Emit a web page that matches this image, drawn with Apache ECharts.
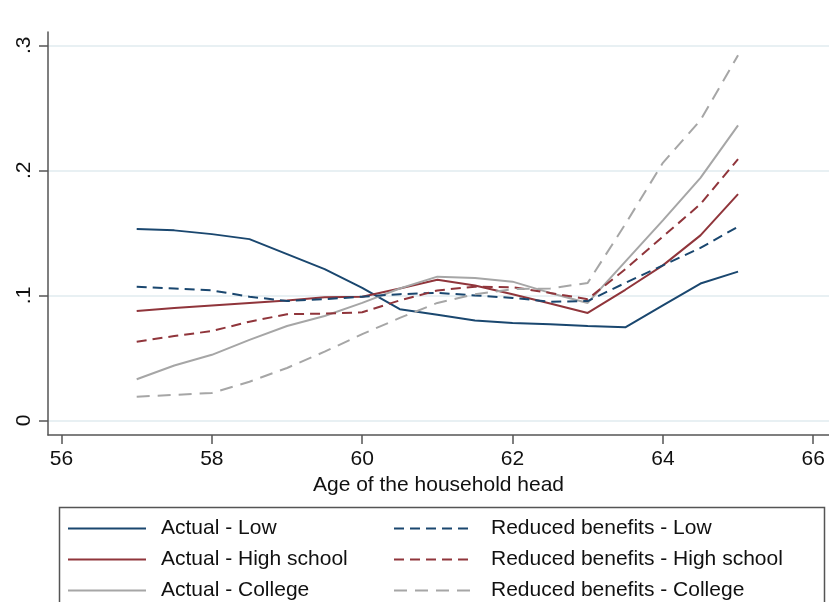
<!DOCTYPE html>
<html>
<head>
<meta charset="utf-8">
<script src="https://cdn.jsdelivr.net/npm/echarts@6/dist/echarts.min.js"></script>
<style>html,body{margin:0;padding:0;background:#fff;}#c{width:829px;height:602px;}</style>
</head>
<body>
<div id="c"></div>
<script>
var ages = [57,57.5,58,58.5,59,59.5,60,60.5,61,61.5,62,62.5,63,63.5,64,64.5,65];
var actualLow = [0.153,0.152,0.149,0.145,0.133,0.121,0.106,0.089,0.0845,0.080,0.078,0.077,0.0755,0.0745,0.092,0.1095,0.119];
var actualHS = [0.0875,0.090,0.092,0.094,0.096,0.0985,0.099,0.1055,0.1125,0.108,0.101,0.0935,0.086,0.1045,0.124,0.148,0.181];
var actualCollege = [0.033,0.044,0.0525,0.0645,0.0755,0.0835,0.094,0.1055,0.115,0.114,0.111,0.102,0.094,0.127,0.160,0.194,0.236];
var reducedLow = [0.107,0.1055,0.104,0.099,0.0955,0.097,0.099,0.101,0.102,0.100,0.098,0.095,0.0955,0.110,0.124,0.138,0.155];
var reducedHS = [0.063,0.0675,0.0715,0.079,0.085,0.0855,0.0865,0.096,0.104,0.107,0.1065,0.102,0.097,0.121,0.147,0.173,0.209];
var reducedCollege = [0.019,0.0205,0.022,0.031,0.042,0.055,0.069,0.082,0.094,0.101,0.105,0.1055,0.110,0.157,0.206,0.240,0.292];

var xTickValues = [56,58,60,62,64,66];
var xTickLabels = ['56','58','60','62','64','66'];
var yTickValues = [0,0.1,0.2,0.3];
var yTickLabels = ['0','.1','.2','.3'];

var seriesNames = ['Actual - Low','Actual - High school','Actual - College',
  'Reduced benefits - Low','Reduced benefits - High school','Reduced benefits - College'];
var seriesValues = [actualLow, actualHS, actualCollege, reducedLow, reducedHS, reducedCollege];

var BLUE = '#1a476f', RED = '#90353b', GRAY = '#a6a6a6';
var colors = [BLUE, RED, GRAY, BLUE, RED, GRAY];
var dashes = ['solid','solid','solid',[10,6],[10,6],[13,8]];

function pairs(vals){ return ages.map(function(a,i){ return [a, vals[i]]; }); }

var FONT = 'Liberation Sans';
var series = seriesNames.map(function(n,i){
  return {
    name: n, type: 'line', data: pairs(seriesValues[i]),
    symbol: 'none', smooth: false,
    lineStyle: { color: colors[i], width: 2, type: dashes[i] },
    itemStyle: { color: colors[i] },
    emphasis: { disabled: true }
  };
});

var chart = echarts.init(document.getElementById('c'));
chart.setOption({
  animation: false,
  backgroundColor: '#fff',
  grid: { left: 48, right: 0, top: 32, bottom: 167 },
  xAxis: {
    type: 'value', min: 55.82, max: 66.21,
    name: 'Age of the household head', nameLocation: 'middle', nameGap: 40,
    nameTextStyle: { fontFamily: FONT, fontSize: 21, color: '#111' },
    axisLine: { show: true, onZero: false, lineStyle: { color: '#555', width: 1.5 } },
    axisTick: { show: true, length: 9, customValues: xTickValues, lineStyle: { color: '#555', width: 1.5 } },
    axisLabel: { customValues: xTickValues, margin: 14, fontFamily: FONT, fontSize: 21, color: '#111',
      formatter: function(v){ var i = xTickValues.indexOf(v); return i >= 0 ? xTickLabels[i] : ''; } },
    splitLine: { show: false }
  },
  yAxis: {
    type: 'value', min: -0.0116, max: 0.3106,
    axisLine: { show: true, onZero: false, lineStyle: { color: '#555', width: 1.5 } },
    axisTick: { show: true, length: 9, customValues: yTickValues, lineStyle: { color: '#555', width: 1.5 } },
    axisLabel: { customValues: yTickValues, rotate: 90, margin: 13, fontFamily: FONT, fontSize: 21, color: '#111',
      formatter: function(v){ for (var i=0;i<yTickValues.length;i++){ if (Math.abs(yTickValues[i]-v)<1e-9) return yTickLabels[i]; } return ''; } },
    splitLine: { show: true, lineStyle: { color: '#e8f0f3', width: 2 } }
  },
  legend: [
    { data: seriesNames.slice(0,3), orient: 'vertical', left: 67, top: 518, padding: 0,
      icon: 'inherit', itemStyle: { opacity: 0 },
      itemWidth: 78, itemHeight: 14, itemGap: 10,
      textStyle: { fontFamily: FONT, fontSize: 21, color: '#111', lineHeight: 21, padding: [0,0,0,10] } },
    { data: seriesNames.slice(3), orient: 'vertical', left: 393, top: 518, padding: 0,
      icon: 'inherit', itemStyle: { opacity: 0 },
      itemWidth: 78, itemHeight: 14, itemGap: 10,
      textStyle: { fontFamily: FONT, fontSize: 21, color: '#111', lineHeight: 21, padding: [0,0,0,14] } }
  ],
  graphic: [
    { type: 'rect', left: 57, top: 505, shape: { width: 765, height: 120 },
      style: { fill: 'none', stroke: '#555', lineWidth: 1.5 }, silent: true }
  ],
  series: series
});
</script>
</body>
</html>
